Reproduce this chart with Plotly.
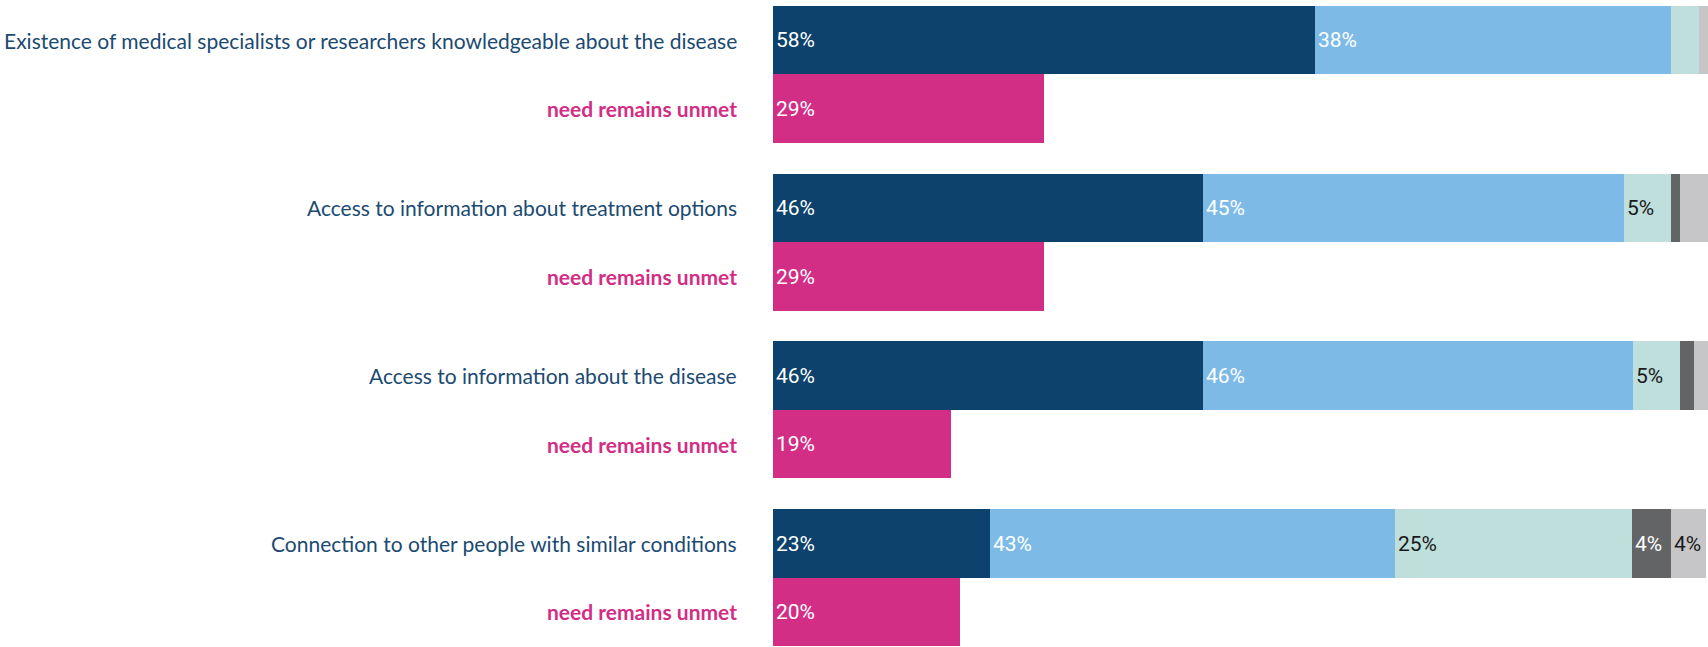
import plotly.graph_objects as go

categories = [
    "Existence of medical specialists or researchers knowledgeable about the disease",
    "Access to information about treatment options",
    "Access to information about the disease",
    "Connection to other people with similar conditions",
]
unmet_label = "need remains unmet"

seg1 = [58, 46, 46, 23.2]
seg2 = [38, 45, 46, 43.3]
seg3 = [3, 5, 5, 25.4]
seg4 = [0, 1, 1.5, 4.1]
seg5 = [1, 3, 1.5, 3.8]
unmet = [29, 29, 19, 20]

seg_colors = ["#0c426b", "#7dbbe6", "#bedfdc", "#636466", "#c6c6c8"]
seg_text_colors = ["white", "white", "#1a1a1a", "white", "#1a1a1a"]
unmet_color = "#d22e86"
navy = "#1b4a72"

PITCH = 2.448
main_y = [i * PITCH for i in range(len(categories))]
unmet_y = [i * PITCH + 1 for i in range(len(categories))]


def labels(vals):
    return [f"{round(v)}%" if v >= 3.5 else "" for v in vals]


fig = go.Figure()
for vals, col, tcol in zip([seg1, seg2, seg3, seg4, seg5], seg_colors, seg_text_colors):
    fig.add_trace(go.Bar(
        x=vals, y=main_y, orientation="h", width=1,
        marker=dict(color=col, line=dict(width=0)),
        text=labels(vals), textposition="inside", insidetextanchor="start",
        textfont=dict(family="Roboto", size=21, color=tcol),
        constraintext="none", cliponaxis=False,
    ))
fig.add_trace(go.Bar(
    x=unmet, y=unmet_y, orientation="h", width=1,
    marker=dict(color=unmet_color, line=dict(width=0)),
    text=labels(unmet), textposition="inside", insidetextanchor="start",
    textfont=dict(family="Roboto", size=21, color="white"),
    constraintext="none",
))

annotations = []
for cat, ym, yu in zip(categories, main_y, unmet_y):
    annotations.append(dict(
        x=0, y=ym, xref="paper", yref="y", xanchor="right", yanchor="middle",
        xshift=-34, text=cat, showarrow=False,
        font=dict(family="Lato", size=21, color=navy),
    ))
    annotations.append(dict(
        x=0, y=yu, xref="paper", yref="y", xanchor="right", yanchor="middle",
        xshift=-34, text=f"<b>{unmet_label}</b>", showarrow=False,
        font=dict(family="Lato", size=21, color=unmet_color),
    ))

fig.update_layout(
    width=1708, height=647,
    margin=dict(l=773, r=0, t=6, b=1),
    barmode="stack", bargap=0,
    showlegend=False,
    plot_bgcolor="white", paper_bgcolor="white",
    xaxis=dict(range=[0, 100], visible=False, fixedrange=True),
    yaxis=dict(range=[3 * PITCH + 1.5, -0.5], visible=False, fixedrange=True),
    annotations=annotations,
    uniformtext=dict(minsize=10, mode="show"),
)

fig.write_html("out.html")
